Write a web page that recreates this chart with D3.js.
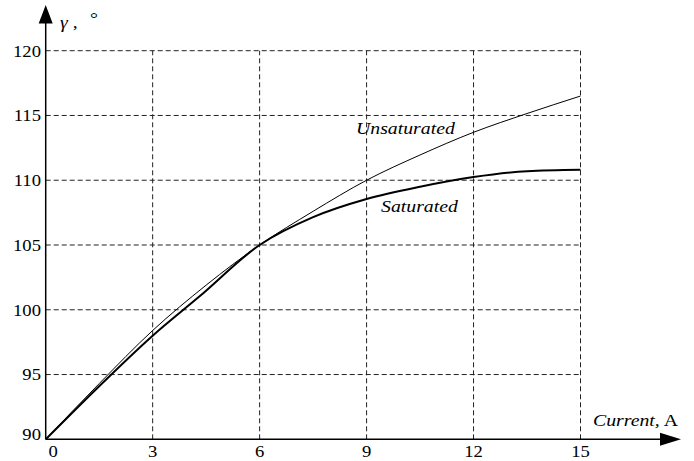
<!DOCTYPE html>
<html>
<head>
<meta charset="utf-8">
<script src="https://cdn.jsdelivr.net/npm/d3@7"></script>
<style>
  body { margin: 0; background: #fff; }
  svg { display: block; }
  text { font-family: "Liberation Serif", "DejaVu Serif", serif; }
</style>
</head>
<body>
<div id="chart"></div>
<script>
// data
const currentTicks = [0, 3, 6, 9, 12, 15];
const angleTicks = [90, 95, 100, 105, 110, 115, 120];

const unsaturatedX = [0, 1.5, 3, 4.5, 6, 7.5, 9, 10.5, 12, 13.5, 15];
const unsaturatedY = [90, 94.3, 98.4, 101.9, 105.0, 107.6, 110.0, 111.95, 113.7, 115.15, 116.5];

const saturatedX = [0, 1.5, 3, 4.3, 6, 7.5, 9, 10.5, 12, 13.5, 15];
const saturatedY = [90, 94.1, 98.0, 101.0, 105.0, 107.15, 108.55, 109.5, 110.25, 110.7, 110.8];

const config = {width: 694, height: 461};
const stretch = 1.13; // text in the picture is a bit wider than the font

const svg = d3.select("#chart")
    .append("svg")
    .attr("width", config.width)
    .attr("height", config.height);

const x = d3.scaleLinear().domain([0, 15]).range([45.7, 580.5]);
const y = d3.scaleLinear().domain([90, 120]).range([439.3, 50.7]);

// helper for the horizontally stretched serif text
function label(tx, ty, anchor, size) {
    return svg.append("text")
        .attr("transform", `translate(${tx},${ty}) scale(${stretch},1)`)
        .attr("text-anchor", anchor)
        .attr("font-size", size + "px")
        .attr("fill", "#000");
}

// dashed grid
const grid = svg.append("g")
    .attr("stroke", "#222")
    .attr("stroke-width", 1)
    .attr("stroke-dasharray", "5,3")
    .attr("fill", "none");

grid.selectAll("line.h")
    .data(angleTicks.slice(1))
    .enter()
    .append("line")
    .attr("class", "h")
    .attr("x1", x(0))
    .attr("x2", x(15))
    .attr("y1", d => y(d))
    .attr("y2", d => y(d));

grid.selectAll("line.v")
    .data(currentTicks.slice(1))
    .enter()
    .append("line")
    .attr("class", "v")
    .attr("x1", d => x(d))
    .attr("x2", d => x(d))
    .attr("y1", y(90))
    .attr("y2", y(120));

// curves
const line = d3.line()
    .x(d => x(d[0]))
    .y(d => y(d[1]))
    .curve(d3.curveMonotoneX);

svg.append("path")
    .datum(unsaturatedX.map((v, i) => [v, unsaturatedY[i]]))
    .attr("d", line)
    .attr("fill", "none")
    .attr("stroke", "#000")
    .attr("stroke-width", 1);

svg.append("path")
    .datum(saturatedX.map((v, i) => [v, saturatedY[i]]))
    .attr("d", line)
    .attr("fill", "none")
    .attr("stroke", "#000")
    .attr("stroke-width", 2);

// axes with arrows
svg.append("line")
    .attr("x1", x(0)).attr("x2", 664)
    .attr("y1", y(90)).attr("y2", y(90))
    .attr("stroke", "#000").attr("stroke-width", 1.5);

svg.append("path")
    .attr("d", `M660,${y(90) - 6.5}L681,${y(90)}L660,${y(90) + 6.5}Z`)
    .attr("fill", "#000");

svg.append("line")
    .attr("x1", x(0)).attr("x2", x(0))
    .attr("y1", y(90)).attr("y2", 20)
    .attr("stroke", "#000").attr("stroke-width", 1.5);

svg.append("path")
    .attr("d", `M${x(0) - 7},23.5L${x(0)},5L${x(0) + 7},23.5Z`)
    .attr("fill", "#000");

// tick labels
currentTicks.forEach(d => {
    const shift = d === 0 ? 7.5 : 0;
    label(x(d) + shift, 457, "middle", 16.5).text(d);
});

angleTicks.forEach(d => {
    const shift = d === 90 ? -5 : 0;
    label(41, y(d) + 5.8 + shift, "end", 16.5).text(d);
});

// axis titles
const yTitle = label(60, 28, "start", 17.5);
yTitle.append("tspan").attr("font-style", "italic").text("γ");
yTitle.append("tspan").text(" ,");
label(90, 24, "start", 17.5).text("°");

const xTitle = label(593, 425.7, "start", 17.5);
xTitle.append("tspan").attr("font-style", "italic").text("Current,");
xTitle.append("tspan").text(" A");

// curve labels
label(356, 134.3, "start", 17.5).attr("font-style", "italic").text("Unsaturated");
label(381, 211.7, "start", 17.5).attr("font-style", "italic").text("Saturated");
</script>
</body>
</html>
